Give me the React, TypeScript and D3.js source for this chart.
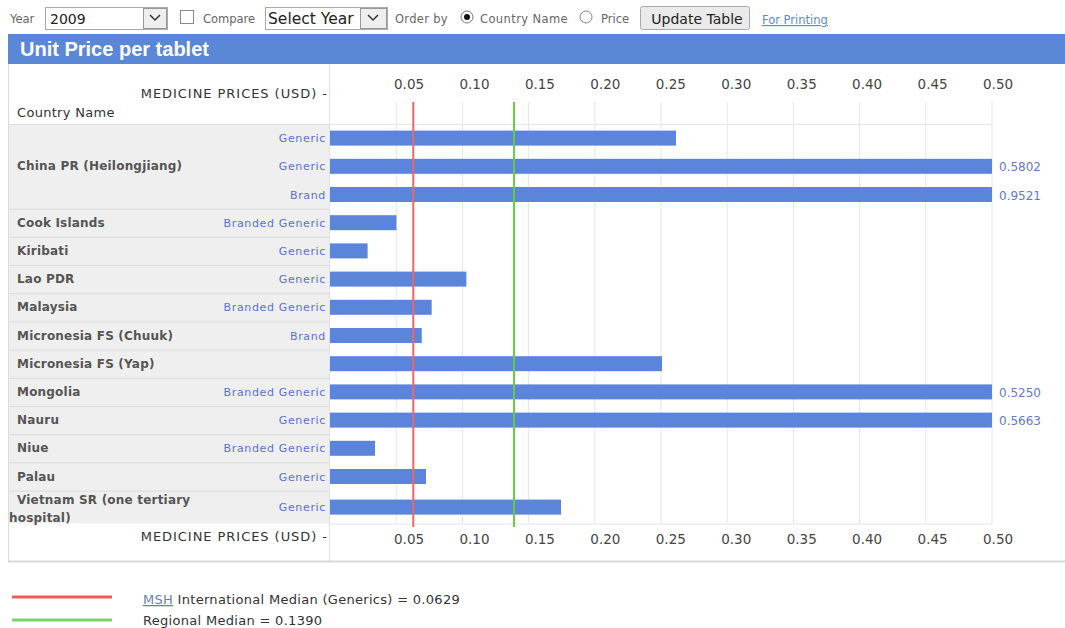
import React from "react";
import * as d3 from "d3";

const countries = [
  "China PR (Heilongjiang)",
  "China PR (Heilongjiang)",
  "China PR (Heilongjiang)",
  "Cook Islands",
  "Kiribati",
  "Lao PDR",
  "Malaysia",
  "Micronesia FS (Chuuk)",
  "Micronesia FS (Yap)",
  "Mongolia",
  "Nauru",
  "Niue",
  "Palau",
  "Vietnam SR (one tertiary hospital)",
];
const productTypes = [
  "Generic", "Generic", "Brand", "Branded Generic", "Generic", "Generic",
  "Branded Generic", "Brand", "", "Branded Generic", "Generic",
  "Branded Generic", "Generic", "Generic",
];
const prices = [
  0.2613, 0.5802, 0.9521, 0.0502, 0.0284, 0.103, 0.0768, 0.0693, 0.2508,
  0.525, 0.5663, 0.034, 0.0725, 0.1745,
];
const tickValues = [0.05, 0.1, 0.15, 0.2, 0.25, 0.3, 0.35, 0.4, 0.45, 0.5];
const intlMedian = 0.0629;
const regionalMedian = 0.139;

const SANS = "'Liberation Sans', Arial, sans-serif";
const FONT = "'DejaVu Sans', Verdana, sans-serif";
const BAR = "#5b84db";
const HEAD = "#5b87d7";

export default function App() {
  const W = 1065;
  const H = 628;
  const x = d3.scaleLinear().domain([0, 0.5]).range([330, 992]);
  const xLabel = d3.scaleLinear().domain([0.05, 0.5]).range([394, 983]);
  const top = 124;
  const rowH = 28.2;
  const lastExtra = 4.8;
  const rowsTop = prices.map((_, i) => top + i * rowH);
  const rowsH = prices.map((_, i) => (i === prices.length - 1 ? rowH + lastExtra : rowH));
  const bottom = rowsTop[rowsTop.length - 1] + rowsH[rowsH.length - 1];
  const barH = 15;

  const groups: { name: string; start: number; end: number }[] = [];
  countries.forEach((c, i) => {
    const g = groups[groups.length - 1];
    if (g && g.name === c) g.end = i;
    else groups.push({ name: c, start: i, end: i });
  });

  const small = { fontFamily: FONT, fontSize: 11.5, fill: "#666" };

  return (
    <svg width={W} height={H} style={{ position: "absolute", left: 0, top: 0 }}>
      <rect width={W} height={H} fill="#fff" />
      {/* controls */}
      <text x={10} y={23} {...small}>Year</text>
      <rect x={45.5} y={7.5} width={122} height={22} fill="#fff" stroke="#aaa" />
      <text x={50} y={24} fontFamily={FONT} fontSize={14} fill="#222">2009</text>
      <rect x={143.5} y={8.5} width={23} height={20} fill="#eee" stroke="#999" />
      <path d="M150,15 L155,20 L160,15" fill="none" stroke="#333" strokeWidth={1.5} />
      <rect x={180.5} y={10.5} width={13} height={13} fill="#fff" stroke="#888" />
      <text x={203} y={23} {...small}>Compare</text>
      <rect x={265.5} y={7.5} width={122} height={22} fill="#fff" stroke="#aaa" />
      <text x={268} y={24} fontFamily={FONT} fontSize={15.5} fill="#222">Select Year</text>
      <rect x={360.5} y={8.5} width={26} height={20} fill="#eee" stroke="#999" />
      <path d="M368,15 L373,20 L378,15" fill="none" stroke="#333" strokeWidth={1.5} />
      <text x={395} y={23} {...small} letterSpacing={0.3}>Order by</text>
      <circle cx={467} cy={17} r={6} fill="#fff" stroke="#777" />
      <circle cx={467} cy={17} r={3} fill="#111" />
      <text x={480} y={23} {...small} letterSpacing={0.4}>Country Name</text>
      <circle cx={586} cy={17} r={6} fill="#fff" stroke="#888" />
      <text x={601} y={23} {...small}>Price</text>
      <rect x={640.5} y={6.5} width={109} height={23} fill="#eaeaea" stroke="#aaa" rx={2} />
      <text x={697} y={24} textAnchor="middle" fontFamily={FONT} fontSize={14} fill="#222">Update Table</text>
      <text x={762} y={24} fontFamily={FONT} fontSize={11.5} fill="#5b8ad0" textDecoration="underline">For Printing</text>

      {/* header bar */}
      <rect x={8} y={34} width={W - 8} height={30} fill={HEAD} />
      <text x={20} y={56} fontFamily={SANS} fontSize={20} fontWeight="bold" fill="#fff">Unit Price per tablet</text>

      {/* left gray column */}
      <rect x={9} y={top} width={321} height={bottom - top} fill="#efefef" />
      {groups.map((g, i) => (
        <line key={"sep" + i} x1={9} x2={330} y1={rowsTop[g.start] + 0.5} y2={rowsTop[g.start] + 0.5} stroke="#dcdcdc" />
      ))}
      <line x1={8.5} x2={8.5} y1={64} y2={562} stroke="#dcdcdc" />
      <line x1={329.5} x2={329.5} y1={64} y2={562} stroke="#e2e2e2" />
      <line x1={8} x2={W} y1={561.5} y2={561.5} stroke="#d8d8d8" strokeWidth={2} />

      {/* header cells */}
      <text x={328} y={98} textAnchor="end" fontFamily={FONT} fontSize={13} letterSpacing={0.95} fill="#333">MEDICINE PRICES (USD) -</text>
      <text x={17} y={117} fontFamily={FONT} fontSize={13} letterSpacing={0.3} fill="#333">Country Name</text>
      <text x={328} y={541} textAnchor="end" fontFamily={FONT} fontSize={13} letterSpacing={0.95} fill="#333">MEDICINE PRICES (USD) -</text>

      {/* grid */}
      {tickValues.map((t) => (
        <g key={"t" + t}>
          <line x1={x(t)} x2={x(t)} y1={102} y2={bottom} stroke="#e6e6e6" />
          <text x={xLabel(t)} y={89} fontFamily={FONT} fontSize={13.5} fill="#444">{t.toFixed(2)}</text>
          <text x={xLabel(t)} y={544} fontFamily={FONT} fontSize={13.5} fill="#444">{t.toFixed(2)}</text>
        </g>
      ))}
      <line x1={330} x2={x(0.5)} y1={top + 0.5} y2={top + 0.5} stroke="#e6e6e6" />
      <line x1={330} x2={x(0.5)} y1={bottom + 0.5} y2={bottom + 0.5} stroke="#e6e6e6" />

      {/* country labels */}
      {groups.map((g, i) => {
        const y0 = rowsTop[g.start];
        const y1 = rowsTop[g.end] + rowsH[g.end];
        const cy = (y0 + y1) / 2;
        if (g.name.length > 30) {
          const parts = g.name.split(" ");
          const l1 = parts.slice(0, 4).join(" ");
          const l2 = parts.slice(4).join(" ");
          return (
            <text key={"c" + i} fontFamily={FONT} fontSize={12} fontWeight="bold" letterSpacing={0.2} fill="#555">
              <tspan x={17} y={cy - 3}>{l1}</tspan>
              <tspan x={9} y={cy + 15}>{l2}</tspan>
            </text>
          );
        }
        return (
          <text key={"c" + i} x={17} y={cy + 4} fontFamily={FONT} fontSize={12} fontWeight="bold" letterSpacing={0.2} fill="#555">
            {g.name}
          </text>
        );
      })}

      {/* bars */}
      {prices.map((p, i) => {
        const cy = rowsTop[i] + rowsH[i] / 2;
        const v = Math.min(p, 0.5);
        return (
          <g key={"b" + i}>
            <text x={326} y={cy + 4} textAnchor="end" fontFamily={FONT} fontSize={11} letterSpacing={0.65} fill="#5a72cf">{productTypes[i]}</text>
            <rect x={x(0)} y={cy - barH / 2} width={x(v) - x(0)} height={barH} fill={BAR} />
            {p > 0.5 && (
              <text x={x(0.5) + 7} y={cy + 5} fontFamily={FONT} fontSize={12} fill="#5f7ac8">{p.toFixed(4)}</text>
            )}
          </g>
        );
      })}

      {/* median lines */}
      <line x1={x(intlMedian)} x2={x(intlMedian)} y1={102} y2={527} stroke="#f06666" strokeWidth={2} />
      <line x1={x(regionalMedian)} x2={x(regionalMedian)} y1={102} y2={527} stroke="#66cc44" strokeWidth={2} />

      {/* legend */}
      <line x1={12} x2={112} y1={597} y2={597} stroke="#f05a5a" strokeWidth={3} />
      <line x1={12} x2={112} y1={620} y2={620} stroke="#7fd06a" strokeWidth={3} />
      <text x={143} y={604} fontFamily={FONT} fontSize={13} letterSpacing={0.3} fill="#333">
        <tspan fill="#6b7fa8" textDecoration="underline">MSH</tspan>
        <tspan> International Median (Generics) = {intlMedian.toFixed(4)}</tspan>
      </text>
      <text x={143} y={625} fontFamily={FONT} fontSize={13} letterSpacing={0.3} fill="#333">Regional Median = {regionalMedian.toFixed(4)}</text>
    </svg>
  );
}
